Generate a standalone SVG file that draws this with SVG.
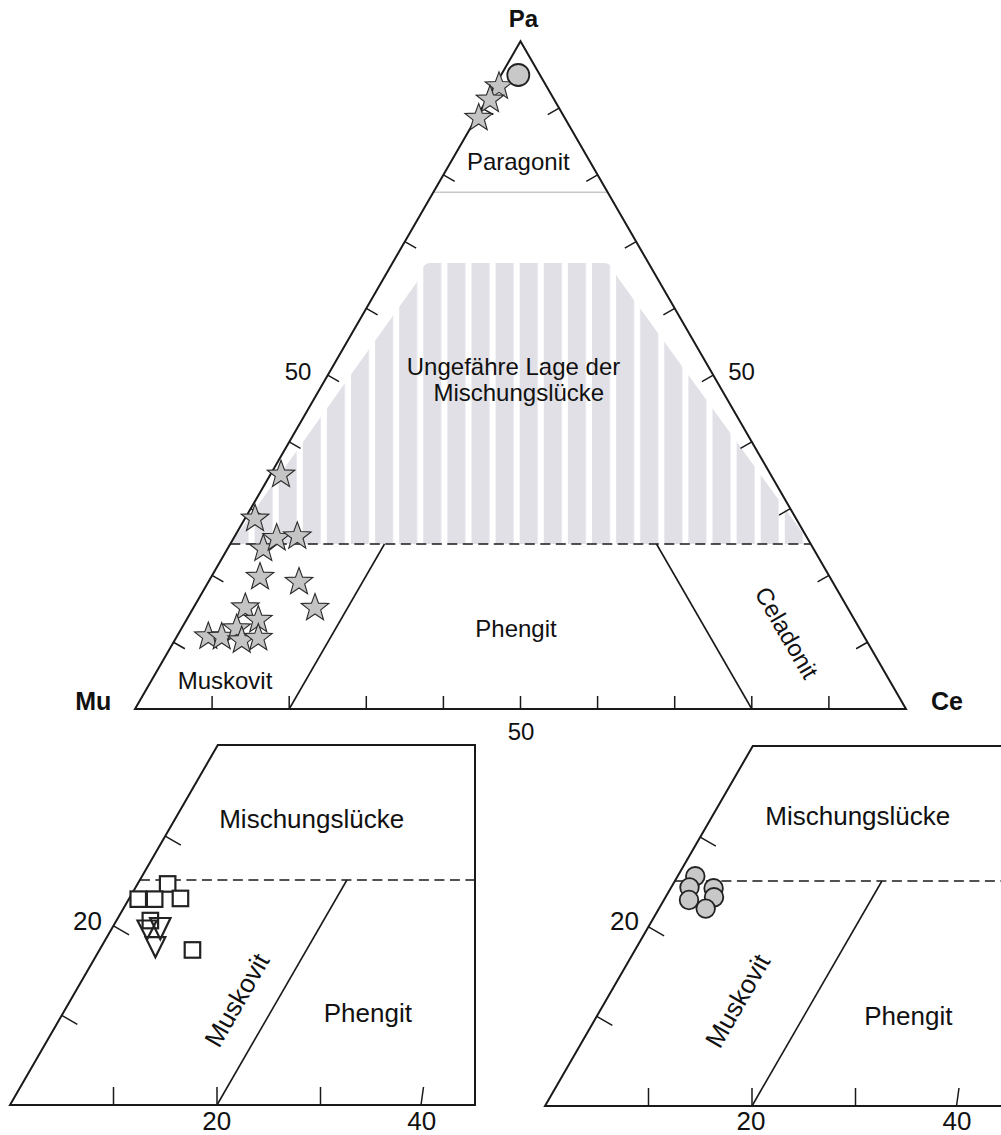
<svg xmlns="http://www.w3.org/2000/svg" width="1001" height="1135" viewBox="0 0 1001 1135">
<style>
.ax{fill:none;stroke:#1a1a1a;stroke-width:2;stroke-linejoin:miter}
.ln{fill:none;stroke:#1a1a1a;stroke-width:1.6}
.tk{fill:none;stroke:#1a1a1a;stroke-width:1.5}
.ds{fill:none;stroke:#1a1a1a;stroke-width:1.6;stroke-dasharray:10 5.5}
.t{font-family:"Liberation Sans",Arial,Helvetica,sans-serif;fill:#111;text-anchor:middle}
.m{font-size:24px}
.s{font-size:26px}
.b{font-size:25px;font-weight:bold}
.st{fill:#c4c4c4;stroke:#2a2a2a;stroke-width:1.1;stroke-linejoin:miter}
.ci{fill:#c8c8c8;stroke:#222;stroke-width:1.8}
.sq{fill:#fff;stroke:#222;stroke-width:2.2}
.tr{fill:none;stroke:#222;stroke-width:2.2;stroke-linejoin:miter}
</style>
<defs>
<pattern id="stripes" patternUnits="userSpaceOnUse" x="423.3" y="0" width="24.1" height="20">
<rect x="0" y="0" width="18" height="20" fill="#e1e0e6"/>
</pattern>
<path id="star" d="M0,-14.5 L3.53,-4.85 L13.79,-4.48 L5.71,1.85 L8.52,11.73 L0,6 L-8.52,11.73 L-5.71,1.85 L-13.79,-4.48 L-3.53,-4.85 Z"/>
</defs>

<g id="main-triangle">
<path id="hatch" d="M230.3,544 L417,282 Q421,263 430,263 L605,263 Q612,263 617.4,277 L810.7,544 Z" fill="url(#stripes)"/>
<line x1="433.3" y1="192.3" x2="607.6" y2="192.3" stroke="#c8c8c8" stroke-width="1.6"/>
<path class="ax" d="M135,709 L520.5,41.3 L906,709 Z"/>
<line class="ds" x1="230.3" y1="544" x2="810.7" y2="544"/>
<line class="ln" x1="289.2" y1="709" x2="384.5" y2="544"/>
<line class="ln" x1="751.8" y1="709" x2="656.5" y2="544"/>
<g id="main-ticks" class="tk">
<path d="M173.55,642.23 l11.3,6.5 M212.1,575.46 l11.3,6.5 M250.65,508.69 l11.3,6.5 M289.2,441.92 l11.3,6.5 M327.75,375.15 l11.3,6.5 M366.3,308.38 l11.3,6.5 M404.85,241.61 l11.3,6.5 M443.4,174.84 l11.3,6.5 M481.95,108.07 l11.3,6.5"/>
<path d="M867.45,642.23 l-11.3,6.5 M828.9,575.46 l-11.3,6.5 M790.35,508.69 l-11.3,6.5 M751.8,441.92 l-11.3,6.5 M713.25,375.15 l-11.3,6.5 M674.7,308.38 l-11.3,6.5 M636.15,241.61 l-11.3,6.5 M597.6,174.84 l-11.3,6.5 M559.05,108.07 l-11.3,6.5"/>
<path d="M212.1,709 v-13 M289.2,709 v-13 M366.3,709 v-13 M443.4,709 v-13 M520.5,709 v-13 M597.6,709 v-13 M674.7,709 v-13 M751.8,709 v-13 M828.9,709 v-13"/>
</g>
<g id="main-labels">
<text class="t b" x="523.5" y="27" style="font-size:24px">Pa</text>
<text class="t b" x="93.3" y="710">Mu</text>
<text class="t b" x="947" y="710">Ce</text>
<text class="t m" x="518.3" y="170">Paragonit</text>
<text class="t m" x="513.5" y="375">Ungefähre Lage der</text>
<text class="t m" x="518.8" y="401">Mischungslücke</text>
<text class="t m" x="516" y="637">Phengit</text>
<text class="t m" x="225" y="689">Muskovit</text>
<text class="t m" transform="translate(779.4,636.9) rotate(60)">Celadonit</text>
<text class="t m" x="298" y="380">50</text>
<text class="t m" x="741.5" y="380">50</text>
<text class="t m" x="521" y="740">50</text>
</g>
<g id="main-data">
<use href="#star" class="st" x="499" y="86.4"/>
<use href="#star" class="st" x="490" y="99.7"/>
<use href="#star" class="st" x="478.7" y="118"/>
<circle class="ci" cx="518.3" cy="75" r="11"/>
<use href="#star" class="st" x="281" y="474.7"/>
<use href="#star" class="st" x="255" y="518.7"/>
<use href="#star" class="st" x="263.3" y="548.7"/>
<use href="#star" class="st" x="276.7" y="538.1"/>
<use href="#star" class="st" x="297.3" y="536.4"/>
<use href="#star" class="st" x="260" y="577"/>
<use href="#star" class="st" x="299" y="582"/>
<use href="#star" class="st" x="315" y="608"/>
<use href="#star" class="st" x="245.3" y="607.5"/>
<use href="#star" class="st" x="258.3" y="620"/>
<use href="#star" class="st" x="208.3" y="636.5"/>
<use href="#star" class="st" x="221.7" y="637"/>
<use href="#star" class="st" x="236.7" y="628.5"/>
<use href="#star" class="st" x="241.7" y="640.5"/>
<use href="#star" class="st" x="258.3" y="638"/>
</g>
</g>

<g id="subplot-left">
<path class="ax" d="M10,1105 L217.8,745 L475,745 L475,1105 Z"/>
<line class="ds" x1="139.9" y1="880" x2="475" y2="880"/>
<line class="ln" x1="217" y1="1105" x2="346.9" y2="880"/>
<path class="tk" d="M61.75,1015.4 l15.6,9 M113.5,925.8 l15.6,9 M165.25,836.2 l15.6,9 M113.5,1105 v-18 M217,1105 v-18 M320.5,1105 v-18 M421,1105 L423.5,1087"/>
<text class="t s" x="311.7" y="828.3">Mischungslücke</text>
<text class="t s" x="367.8" y="1021.7">Phengit</text>
<text class="t s" transform="translate(244.6,1004.6) rotate(-60)">Muskovit</text>
<text class="t s" x="87.5" y="930">20</text>
<text class="t s" x="216.7" y="1129.5">20</text>
<text class="t s" x="421.7" y="1129.5">40</text>
<g id="left-data">
<rect class="sq" x="142.6" y="912.8" width="15.5" height="15.5"/>
<rect class="sq" x="159.9" y="876.2" width="15.5" height="15.5"/>
<rect class="sq" x="130.5" y="891.4" width="15.5" height="15.5"/>
<rect class="sq" x="146.9" y="891.4" width="15.5" height="15.5"/>
<rect class="sq" x="172.7" y="890.7" width="15.5" height="15.5"/>
<rect class="sq" x="184.7" y="942.2" width="15.5" height="15.5"/>
<path class="tr" d="M137.5,920.5 L156.7,920.5 L147.1,939.3 Z"/>
<path class="tr" d="M150,918 L170.5,918 L160.3,939.3 Z"/>
<path class="tr" d="M145.5,937.2 L165.3,937.2 L155.4,957.3 Z"/>
</g>
</g>

<g id="subplot-right">
<path class="ax" d="M1001,746 L752.8,746 L545,1106 L1001,1106"/>
<line class="ds" x1="674.9" y1="881" x2="1001" y2="881"/>
<line class="ln" x1="752" y1="1106" x2="881.9" y2="881"/>
<path class="tk" d="M596.75,1016.4 l15.6,9 M648.5,926.8 l15.6,9 M700.25,837.2 l15.6,9 M648.5,1106 v-18 M752,1106 v-18 M855.5,1106 v-18 M956.5,1106 L959,1088"/>
<text class="t s" x="857.8" y="825">Mischungslücke</text>
<text class="t s" x="908.3" y="1025">Phengit</text>
<text class="t s" transform="translate(745.4,1005.4) rotate(-60)">Muskovit</text>
<text class="t s" x="624.5" y="930">20</text>
<text class="t s" x="751" y="1129.5">20</text>
<text class="t s" x="957" y="1129.5">40</text>
<g id="right-data">
<circle class="ci" cx="695.3" cy="876.3" r="9.3"/>
<circle class="ci" cx="689.5" cy="887.5" r="9.3"/>
<circle class="ci" cx="713.6" cy="888.3" r="9.3"/>
<circle class="ci" cx="689" cy="900" r="9.3"/>
<circle class="ci" cx="714" cy="897.3" r="9.3"/>
<circle class="ci" cx="705.7" cy="908.6" r="9.3"/>
</g>
</g>
</svg>
